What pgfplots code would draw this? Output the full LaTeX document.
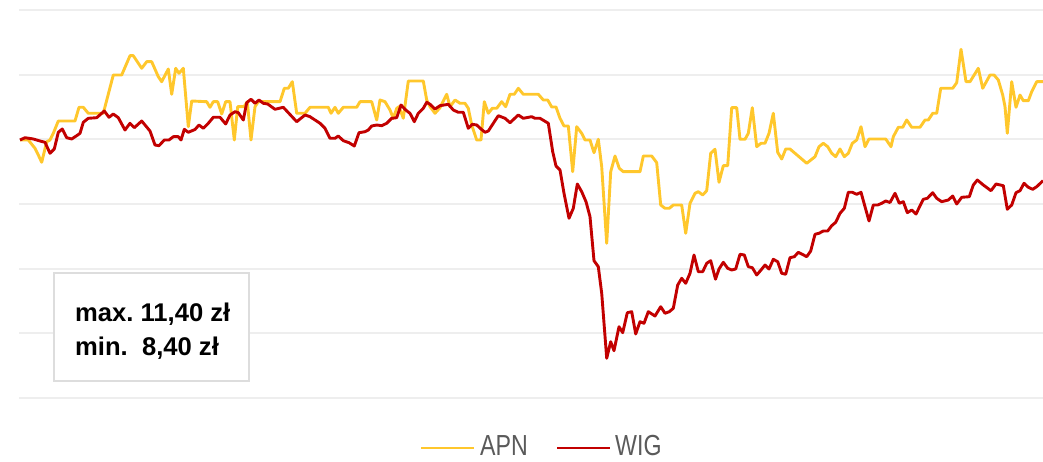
\documentclass[border=0pt]{standalone}
\usepackage{pgfplots}
\pgfplotsset{compat=1.18}
\usepackage{fontspec}
\setmainfont{Liberation Sans}
\newfontfamily\legfont[FakeStretch=0.8]{Liberation Sans}
\definecolor{apn}{HTML}{FFC72C}
\definecolor{wig}{HTML}{C20000}
\definecolor{gridc}{HTML}{EEEEEE}
\definecolor{boxc}{HTML}{DDDDDD}
\definecolor{legc}{HTML}{5A5A5A}
\frenchspacing
\pgfplotstableread{
x y
20 140
28.3 140
35 148.3
38.3 155
41.7 162.3
46.7 141.7
50 140
53.3 133.3
58.3 121
75 121
79 107.3
83.3 107.3
88.3 113.3
103.3 113.3
113.3 75
121.7 75
130 55.7
133.3 55.7
141.7 68.3
146.7 61.7
151.7 61.7
158.3 76.7
161.7 81.7
168.3 69
171.7 94.3
175.7 68.3
179 73.3
183.3 68.3
188.3 126.7
191.7 101
206.7 101.7
210 107.3
213.3 101.7
217.7 101.7
221.7 114
225.7 101.7
230 101.7
234.3 140
237.7 106.7
244 106.7
247.3 101.7
251 140
255 106.7
258.3 101.7
280 101.7
284.3 88.3
288.3 88.3
292.3 81.7
296.7 113.3
305 113.3
310 107.3
328.3 107.3
331 113.3
335 107.3
338.3 113.3
343.3 107.3
356.7 107.3
360 101.7
371.7 101.7
376.7 120
380 100
385 101.7
390 110
393.3 118.3
396.7 108.3
399 106.7
403.3 118.3
408.3 81
423.3 81
426.7 100
430 106.7
435 113.3
440 107.7
446.7 94.3
450 106.7
455 100
460 103.3
465 103.3
468.3 108.3
471.7 125
476.7 140
481 140
484.3 101.7
488.3 113.3
492.3 108.3
496.7 108.3
501.7 101.7
505.7 106.7
510 94.3
514.3 94.3
518.3 88.3
523.3 94.3
538.3 94.3
543.3 100
547.7 100
551.7 107
556 107
560 118.3
564 126
568.3 126
572.7 171.7
576.7 126.7
581.7 133.3
585 140
590 140
594 152.7
598.3 139.3
601.7 166.7
606.7 243.3
610.7 171.7
615 156
619.3 168.3
623.3 171.7
640 171.7
643.3 156
651.7 156
656.7 162.7
660.7 205
665 208.3
669.3 208.3
673.3 205
681.7 205
685.7 233.3
690 203.3
695 193.3
698.3 191.7
702.7 195
706.7 190.7
710.7 153.3
715 149.3
719 182.3
723.3 165.7
727.7 165.7
731.7 107.7
736.7 107.7
740 139.3
745 139.3
748.3 133.3
752.3 107.7
756.7 146.7
761 143.3
765 143.3
769 133.3
773.3 113.3
777.7 152.3
781.7 159
785.7 149
790 149
806.7 163.3
815 156.7
819 146.7
823.3 143.3
827.7 146.7
831.7 153.3
835.7 156.7
840 149
844.3 156.7
848.3 153.3
852.3 143.3
856.7 140
861 126.7
865 146.7
869 139
885.7 139
891 146.7
893.3 136.7
898.3 127.3
902.7 127.3
906.7 120
911.7 127.3
920 127.3
925 120
928.3 120
932.7 113.3
936.7 113.3
940.7 88.3
952.7 88.3
956.7 82.7
961 49.3
966 81.7
970 81.7
978.3 68.3
982.7 88.3
990 75
994 75
998.3 80
1002.7 95
1005 106.7
1007.3 133.3
1011.7 81.7
1016 107.3
1020 95
1023.3 100.7
1028.3 100.7
1031.7 91.7
1036.7 81.7
1043 81.7
}\apndata
\pgfplotstableread{
x y
20 140
25 137.7
33.3 139
40 141
45 142.3
50 153.3
54.3 149
58.3 132.3
62.3 129
66.7 137.7
71.7 139
76.7 135.7
80 133.3
83.3 122.3
88.3 118.3
96.7 117.7
104.3 111
109 117.3
113.3 114
118.3 117.7
125 130
130 123.3
134.3 127.7
141.7 121
150 131
155 145
159 145.7
164.3 140
169 140
173.3 136.7
178.3 136.7
181 140
184.3 129.3
188.3 132.3
195 129.5
199 125
203.3 128.3
208.3 123.3
213.3 117.3
220 117.3
225.7 124
230 115
235 111.7
238.3 112.7
243.3 120
246.7 102.7
251 99.3
255 103.3
259 100
263.3 103.3
267.7 104
275 109.3
283.3 107.3
296.7 121.7
305 115
310 116.7
320 123.3
325 128.3
330 138.3
335 138.3
338.3 136
343.3 140.7
349 142.7
354.3 146
359 132.7
365 131.7
368.3 130
371.7 126
376.7 125
381.7 125.7
386.7 123.3
391.7 118.3
396.7 117.7
401 105
405.7 110
410 113.3
414.3 121.7
418.3 113.3
423.3 108.3
426.7 102.3
430 104.3
435 109
440 105.7
448.3 104.3
453.3 110
458.3 112.3
463.3 112.3
468.3 128.3
472.3 124.3
476.7 125
481 129
485 132.3
488.3 131
493.3 123.3
498.3 115.7
505 118.3
510 122.7
518.3 115
523.3 118.3
531.7 116.7
535 118.3
540 118.3
544 120.7
548.3 123.3
552.7 151.7
556 166
560 170
564 193.3
569 218.3
573.3 208.3
577.3 184
581.7 191.7
586 201.7
590 216.7
594 260.7
598.3 266.7
601.7 293.3
606.7 358.3
610.7 341.7
614 350.7
619 326.7
622.7 332.7
627.3 312.7
631.7 311.7
635.7 334
640 321.7
644 323.3
648.3 311.7
655 316
660.7 306.7
665 313.3
669.3 311.7
673.3 308.3
677.7 285
681.7 278.3
685.7 283.3
690 273.3
694 255
698.3 271.7
702.7 271.7
706.7 263.3
710.7 260.7
715.5 279.2
719 269
723.3 262.3
727.7 268.3
731.7 270
735.7 269
740 254.3
744.3 255
748.3 266.7
752.3 267.7
756.7 275
761 270
765 265
769 269
773.3 259.3
777.7 261.7
781.7 273.3
785.7 274.3
790 257.7
794.3 256.7
798.3 252.3
802.3 254.3
806.7 256.7
810.7 251
815 234.3
819 233.3
823.3 231
827.7 231
831.7 225.7
835.7 222.3
840 213.3
844.3 208.3
848.3 192.3
852.3 192.3
856.7 194.3
861 192.3
865 206.7
869 221
873.3 205
877.7 205
881.7 203.3
885.7 201
890 202.5
895 193.3
899.3 203.3
903.3 201.7
907.3 212.7
911.7 210
916 214
923.3 199.3
927.3 198.3
932.7 192.7
936.7 198.3
941.7 201.7
948.3 200
952.7 196
956.7 204
961.7 197.3
969.3 196.7
973.3 185
977.3 180
983.3 185
991 190.7
996 184
1003.3 185.7
1007.3 209.3
1011.7 205
1016 192.7
1020 190.7
1024 183.3
1028.3 187.3
1032.7 189.3
1036.7 186.7
1043 180.7
}\wigdata
\begin{document}
\begin{tikzpicture}
\begin{axis}[
  scale only axis, width=1043pt, height=462pt,
  xmin=0, xmax=1043, ymin=0, ymax=462, y dir=reverse,
  hide axis,
]
\path (axis cs:0,0) rectangle (axis cs:1043,462);
\foreach \g in {10,74.7,139.3,204,268.7,333.3,398}{
  \edef\tmp{\noexpand\draw[gridc, line width=2pt] (axis cs:19,\g) -- (axis cs:1043,\g);}\tmp
}
\addplot[apn, line width=2.9pt, line join=round, mark=none] table[x=x,y=y] {\apndata};
\addplot[wig, line width=2.9pt, line join=round, mark=none] table[x=x,y=y] {\wigdata};
\draw[boxc, line width=2pt, fill=white] (axis cs:54,273) rectangle (axis cs:249,381);
\node[anchor=base west, inner sep=0pt, font=\bfseries\fontsize{25.6}{30}\selectfont] at (axis cs:75,321.7) {max. 11,40 zł};
\node[anchor=base west, inner sep=0pt, font=\bfseries\fontsize{25.6}{30}\selectfont] at (axis cs:75,355) {min.\ \ 8,40 zł};
\draw[apn, line width=2.9pt] (axis cs:421,448) -- (axis cs:474,448);
\node[anchor=base west, inner sep=0pt, text=legc, font=\legfont\fontsize{29}{34}\selectfont] at (axis cs:480,455) {APN};
\draw[wig, line width=2.9pt] (axis cs:557,448) -- (axis cs:610,448);
\node[anchor=base west, inner sep=0pt, text=legc, font=\legfont\fontsize{29}{34}\selectfont] at (axis cs:615,455) {WIG};
\end{axis}
\end{tikzpicture}
\end{document}
